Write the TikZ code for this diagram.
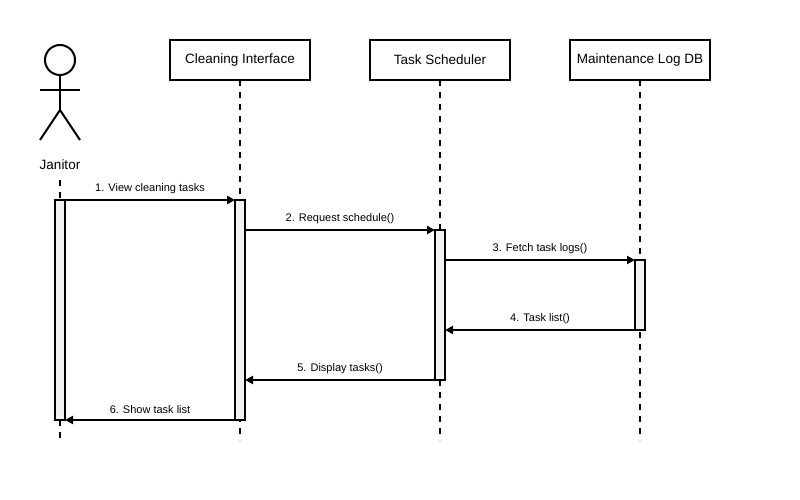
\documentclass[tikz,border=0pt]{standalone}
\usepackage{fontspec}
\setmainfont{Liberation Sans}
\usetikzlibrary{arrows.meta, positioning}
\tikzstyle{line} = [draw, -{Triangle[length=8pt,width=8pt]}, line width=2pt]
\tikzstyle{lifeline} = [draw, dash pattern=on 6pt off 6pt, line width=2pt]
\tikzstyle{actor} = [draw, line width=2pt]
\tikzstyle{head} = [rectangle, draw, fill=white, line width=2pt, outer sep=0pt,
  minimum width=140pt, minimum height=40pt, font=\fontsize{13.5}{16}\selectfont]
\tikzstyle{bar} = [rectangle, draw, fill=black!5, line width=2pt, outer sep=0pt,
  minimum width=10pt, inner sep=0pt]
\tikzstyle{msg} = [above=5pt, inner sep=0pt, font=\fontsize{11}{13}\selectfont]

\begin{document}
\begin{tikzpicture}[x=1pt, y=-1pt]
    \useasboundingbox (0,0) rectangle (800,500);

    \node [head] (cleaning) at (240,60) {Cleaning Interface};
    \node [head, right=60pt of cleaning] (scheduler) {Task Scheduler};
    \node [head, right=60pt of scheduler] (logdb) {Maintenance Log DB};

    % actor
    \node [circle, draw, line width=2pt, minimum size=30pt, inner sep=0pt, outer sep=0pt] (face) at (60,60) {};
    \coordinate (hip) at (60,110);
    \coordinate (armL) at (40,90);
    \coordinate (armR) at (80,90);
    \coordinate (footL) at (40,140);
    \coordinate (footR) at (80,140);
    \path [actor] (face) -- (hip);
    \path [actor] (armL) -- (armR);
    \path [actor] (footL) -- (hip) -- (footR);
    \node (janitor) at (60,165) [font=\fontsize{13.5}{16}\selectfont] {Janitor};

    \coordinate (jtop) at (60,180);
    \coordinate (jend) at (60,440);
    \coordinate (cend) at (240,440);
    \coordinate (send) at (440,440);
    \coordinate (lend) at (640,440);

    \path [lifeline] (jtop) -- (jend);
    \path [lifeline] (cleaning) -- (cend);
    \path [lifeline] (scheduler) -- (send);
    \path [lifeline] (logdb) -- (lend);

    \node [bar, minimum height=220pt, below=120pt of cleaning] (cbar) {};
    \node [bar, minimum height=220pt, anchor=north] (jbar) at (60,200) {};
    \node [bar, minimum height=150pt, below=150pt of scheduler] (sbar) {};
    \node [bar, minimum height=70pt, below=180pt of logdb] (lbar) {};

    \path [line] (jbar.north east) -- node [msg] (m1) {1. View cleaning tasks} (cbar.north west);
    \path [line] (cbar.east |- sbar.north) -- node [msg] (m2) {2. Request schedule()} (sbar.north west);
    \path [line] (sbar.east |- lbar.north) -- node [msg] (m3) {3. Fetch task logs()} (lbar.north west);
    \path [line] (lbar.south west) -- node [msg] (m4) {4. Task list()} (sbar.east |- lbar.south);
    \path [line] (sbar.south west) -- node [msg] (m5) {5. Display tasks()} (cbar.east |- sbar.south);
    \path [line] (cbar.south west) -- node [msg] (m6) {6. Show task list} (jbar.south east);

  \end{tikzpicture}
\end{document}
